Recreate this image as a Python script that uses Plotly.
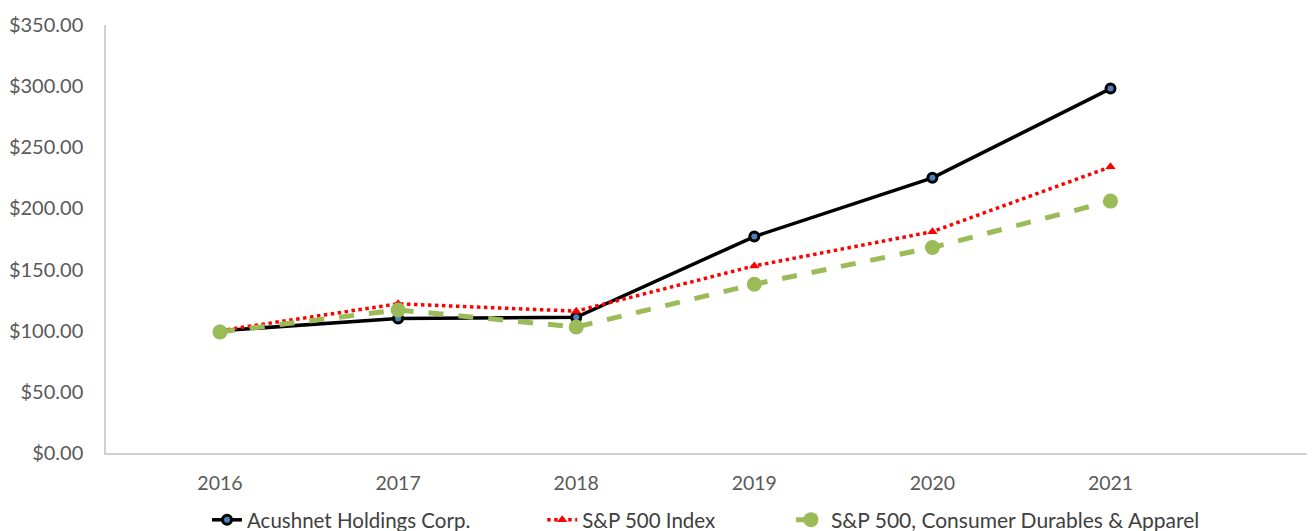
import plotly.graph_objects as go

years = [2016, 2017, 2018, 2019, 2020, 2021]
acushnet = [100, 110, 111, 177, 225, 298]
sp500 = [100, 122, 116, 153, 181, 234]
durables = [99, 117, 103, 138, 168, 206]
y_ticks = [0, 50, 100, 150, 200, 250, 300, 350]
y_labels = ["$%.2f" % v for v in y_ticks]

fig = go.Figure()
fig.add_trace(go.Scatter(
    x=years, y=acushnet, name="Acushnet Holdings Corp.", mode="lines+markers",
    line=dict(color="black", width=3.5), legend="legend",
    marker=dict(symbol="circle", size=9, color="#4F81BD", line=dict(color="black", width=3))))
fig.add_trace(go.Scatter(
    x=years, y=sp500, name="S&P 500 Index", mode="lines+markers",
    line=dict(color="#FF0000", width=3.5, dash="dot"), legend="legend2",
    marker=dict(symbol="triangle-up", size=9, color="#FF0000")))
fig.add_trace(go.Scatter(
    x=years, y=durables, name="S&P 500, Consumer Durables & Apparel", mode="lines+markers",
    line=dict(color="#9BBB59", width=5, dash="dash"), legend="legend3",
    marker=dict(symbol="circle", size=15, color="#9BBB59")))

leg_common = dict(orientation="h", y=-0.1565, yanchor="middle", xanchor="left",
                  bgcolor="rgba(0,0,0,0)")
leg_font = dict(size=20.5, color="#404040", family="Lato, sans-serif")
fig.update_layout(
    width=1307, height=523,
    paper_bgcolor="white", plot_bgcolor="white",
    margin=dict(l=98, r=5, t=17, b=78, autoexpand=False),
    font=dict(family="Lato, sans-serif", size=20, color="#595959"),
    showlegend=True,
    legend=dict(x=0.0839, font=leg_font, **leg_common),
    legend2=dict(x=0.3623, font=leg_font, **leg_common),
    legend3=dict(x=0.5689, font=dict(leg_font, size=21), **leg_common),
)
fig.update_xaxes(
    range=[2015.36, 2022.12], tickmode="array", tickvals=years,
    ticktext=[str(y) for y in years], automargin=False,
    tickfont=dict(size=19.5),
    showgrid=False, zeroline=False, showline=True, linecolor="#D0D0D0", linewidth=1.5,
    ticks="", ticklabelstandoff=12)
fig.update_yaxes(
    range=[0, 350], tickmode="array", tickvals=y_ticks, ticktext=y_labels, automargin=False,
    showgrid=False, zeroline=False, showline=True, linecolor="#D0D0D0", linewidth=1.5,
    ticks="", ticklabelstandoff=17)

fig.write_html("out.html")
